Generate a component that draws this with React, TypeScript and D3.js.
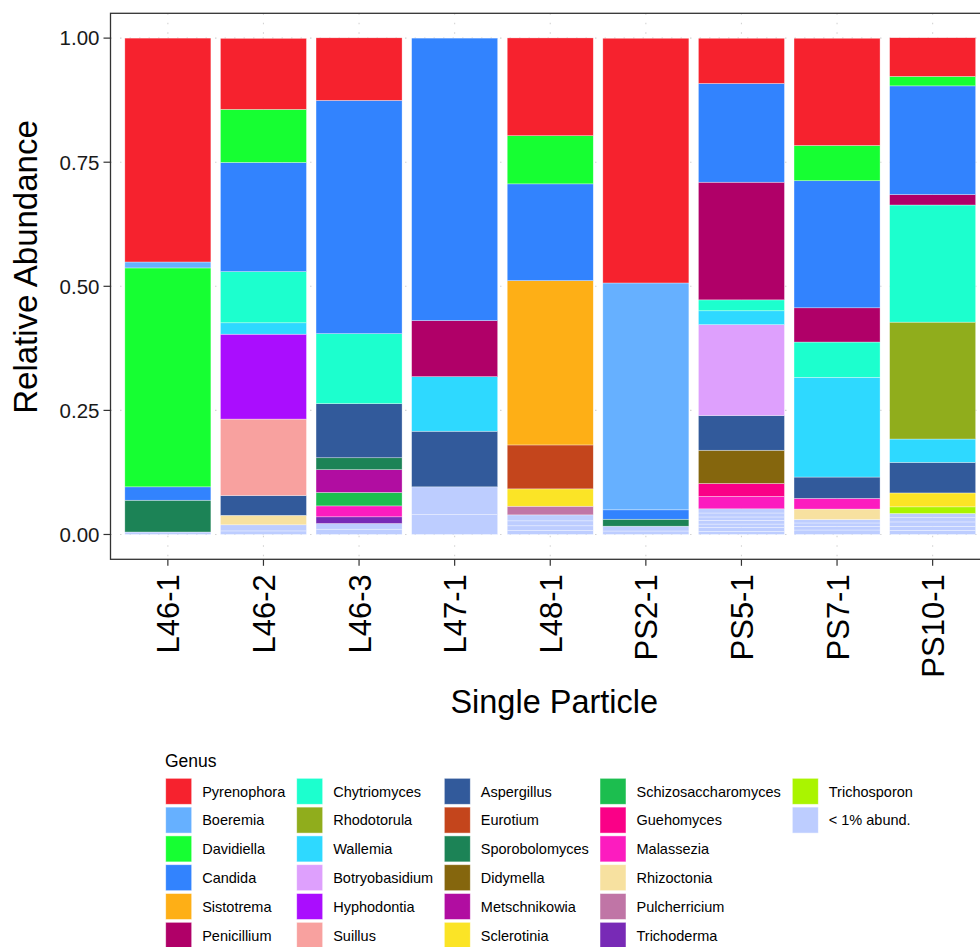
import React from "react";
import * as d3 from "d3";

// Samples along the x axis
const samples = ["L46-1", "L46-2", "L46-3", "L47-1", "L48-1", "PS2-1", "PS5-1", "PS7-1", "PS10-1"];

// Genus names (legend order, top of each stack first) and their colours
const genera = [
  "Pyrenophora", "Boeremia", "Davidiella", "Candida", "Sistotrema", "Penicillium",
  "Chytriomyces", "Rhodotorula", "Wallemia", "Botryobasidium", "Hyphodontia", "Suillus",
  "Aspergillus", "Eurotium", "Sporobolomyces", "Didymella", "Metschnikowia", "Sclerotinia",
  "Schizosaccharomyces", "Guehomyces", "Malassezia", "Rhizoctonia", "Pulcherricium",
  "Trichoderma", "Trichosporon",
];
const generaColors = [
  "#F6222E", "#66B0FF", "#16FF32", "#3283FE", "#FEAF16", "#B00068",
  "#1CFFCE", "#90AD1C", "#2ED9FF", "#DEA0FD", "#AA0DFE", "#F8A19F",
  "#325A9B", "#C4451C", "#1C8356", "#85660D", "#B10DA1", "#FBE426",
  "#1CBE4F", "#FA0087", "#FC1CBF", "#F7E1A0", "#C075A6",
  "#782AB6", "#AAF400",
];
const lowLabel = "< 1% abund.";
const lowColor = "#BDCDFF";

// Relative abundance of each genus per sample (same order as `samples`)
const pyrenophora = [0.451, 0.143, 0.126, 0, 0.197, 0.493, 0.091, 0.216, 0.078];
const boeremia = [0.012, 0, 0, 0, 0, 0.457, 0, 0, 0];
const davidiella = [0.441, 0.107, 0, 0, 0.097, 0, 0, 0.071, 0.019];
const candida = [0.027, 0.22, 0.47, 0.569, 0.195, 0.019, 0.199, 0.256, 0.219];
const sistotrema = [0, 0, 0, 0, 0.331, 0, 0, 0, 0];
const penicillium = [0, 0, 0, 0.113, 0, 0, 0.237, 0.069, 0.021];
const chytriomyces = [0, 0.103, 0.141, 0, 0, 0, 0.022, 0.071, 0.236];
const rhodotorula = [0, 0, 0, 0, 0, 0, 0, 0, 0.2355];
const wallemia = [0, 0.023, 0, 0.11, 0, 0, 0.028, 0.201, 0.047];
const botryobasidium = [0, 0, 0, 0, 0, 0, 0.183, 0, 0];
const hyphodontia = [0, 0.171, 0, 0, 0, 0, 0, 0, 0];
const suillus = [0, 0.154, 0, 0, 0, 0, 0, 0, 0];
const aspergillus = [0, 0.04, 0.109, 0.112, 0, 0, 0.07, 0.043, 0.0616];
const eurotium = [0, 0, 0, 0, 0.0885, 0, 0, 0, 0];
const sporobolomyces = [0.064, 0, 0.024, 0, 0, 0.014, 0, 0, 0];
const didymella = [0, 0, 0, 0, 0, 0, 0.067, 0, 0];
const metschnikowia = [0, 0, 0.046, 0, 0, 0, 0, 0, 0];
const sclerotinia = [0, 0, 0, 0, 0.035, 0, 0, 0, 0.028];
const schizosaccharomyces = [0, 0, 0.027, 0, 0, 0, 0, 0, 0];
const guehomyces = [0, 0, 0, 0, 0, 0, 0.026, 0, 0];
const malassezia = [0, 0, 0.022, 0, 0, 0, 0.025, 0.0215, 0];
const rhizoctonia = [0, 0.019, 0, 0, 0, 0, 0, 0.021, 0];
const pulcherricium = [0, 0, 0, 0, 0.0174, 0, 0, 0, 0];
const trichoderma = [0, 0, 0.0135, 0, 0, 0, 0, 0, 0];
const trichosporon = [0, 0, 0, 0, 0, 0, 0, 0, 0.0134];

// Rare taxa (< 1% each), one stripe per taxon group, per sample
const lowAbundance = [
  [0.005],
  [0.0072, 0.0123],
  [0.0107, 0.0114],
  [0.04, 0.056],
  [0.008, 0.0095, 0.01, 0.012],
  [0.007, 0.0097],
  [0.006, 0.008, 0.007, 0.0075, 0.0068, 0.008, 0.0084],
  [0.009, 0.0072, 0.007, 0.007],
  [0.0085, 0.008, 0.0088, 0.0085, 0.0085],
];

const yTicks = [0, 0.25, 0.5, 0.75, 1];

const generaValues = [
  pyrenophora, boeremia, davidiella, candida, sistotrema, penicillium,
  chytriomyces, rhodotorula, wallemia, botryobasidium, hyphodontia, suillus,
  aspergillus, eurotium, sporobolomyces, didymella, metschnikowia, sclerotinia,
  schizosaccharomyces, guehomyces, malassezia, rhizoctonia, pulcherricium,
  trichoderma, trichosporon,
];

const FONT = "'Liberation Sans', Arial, Helvetica, sans-serif";
const W = 980;
const H = 947;
const panel = { left: 110.5, right: 990, top: 13.3, bottom: 559.3 };

export default function App() {
  const maxLow = d3.max(lowAbundance, (d) => d.length) as number;
  const lowKeys = d3.range(maxLow).map((i) => `low${i}`);
  const keys = [...lowKeys, ...genera.slice().reverse()];

  const rows = samples.map((s, i) => {
    const row: Record<string, number | string> = { sample: s };
    lowKeys.forEach((k, j) => (row[k] = lowAbundance[i][j] ?? 0));
    genera.forEach((g, gi) => (row[g] = generaValues[gi][i]));
    return row;
  });

  const series = d3.stack<any>().keys(keys)(rows as any);

  const color = d3
    .scaleOrdinal<string, string>()
    .domain([...genera, ...lowKeys])
    .range([...generaColors, ...lowKeys.map(() => lowColor)]);

  const x = d3
    .scaleBand<string>()
    .domain(samples)
    .range([panel.left, panel.right])
    .paddingInner(0.1)
    .paddingOuter(0.15);
  const y = d3.scaleLinear().domain([-0.05, 1.05]).range([panel.bottom, panel.top]);

  const legendItems = [
    ...genera.map((g, i) => ({ label: g, color: generaColors[i] })),
    { label: lowLabel, color: lowColor },
  ];
  const legendColX = [165.7, 296.7, 444.3, 600, 792.3];
  const rowsPerCol = 6;
  const legendTop = 778.3;
  const legendStep = 28.8;
  const keySize = 26;

  return (
    <svg
      width={W}
      height={H}
      viewBox={`0 0 ${W} ${H}`}
      style={{ position: "absolute", left: 0, top: 0, display: "block", background: "#fff" }}
      fontFamily={FONT}
    >
      <rect x={0} y={0} width={W} height={H} fill="#fff" />
      {/* grid */}
      <g stroke="#d4d4d4" strokeWidth={1.1} strokeDasharray="1.5 8">
        {yTicks.map((t) => (
          <line key={`gy${t}`} x1={panel.left} x2={panel.right} y1={y(t)} y2={y(t)} />
        ))}
        {samples.map((s) => (
          <line
            key={`gx${s}`}
            x1={(x(s) as number) + x.bandwidth() / 2}
            x2={(x(s) as number) + x.bandwidth() / 2}
            y1={panel.top}
            y2={panel.bottom}
          />
        ))}
      </g>
      {/* stacked bars */}
      <g>
        {series.map((ser) => (
          <g key={ser.key} fill={color(ser.key)}>
            {ser.map((d, i) => {
              const h = y(d[0]) - y(d[1]);
              if (h <= 0) return null;
              return (
                <rect
                  key={i}
                  x={x(samples[i])}
                  y={y(d[1])}
                  width={x.bandwidth()}
                  height={h}
                  stroke="#ffffff"
                  strokeOpacity={0.55}
                  strokeWidth={0.6}
                />
              );
            })}
          </g>
        ))}
      </g>
      {/* panel border */}
      <rect
        x={panel.left}
        y={panel.top}
        width={panel.right - panel.left}
        height={panel.bottom - panel.top}
        fill="none"
        stroke="#333333"
        strokeWidth={1.3}
      />
      {/* y axis */}
      <g>
        {yTicks.map((t) => (
          <g key={`yt${t}`}>
            <line x1={panel.left - 7} x2={panel.left} y1={y(t)} y2={y(t)} stroke="#333" strokeWidth={1.2} />
            <text x={panel.left - 11} y={y(t)} dy="0.36em" textAnchor="end" fontSize={20.5} fill="#1a1a1a">
              {d3.format(".2f")(t)}
            </text>
          </g>
        ))}
        <text
          transform={`translate(37,267) rotate(-90)`}
          textAnchor="middle"
          fontSize={33}
          fill="#000"
        >
          Relative Abundance
        </text>
      </g>
      {/* x axis */}
      <g>
        {samples.map((s) => {
          const cx = (x(s) as number) + x.bandwidth() / 2;
          return (
            <g key={`xt${s}`}>
              <line x1={cx} x2={cx} y1={panel.bottom} y2={panel.bottom + 6.5} stroke="#333" strokeWidth={1.2} />
              <text
                transform={`translate(${cx + 11.5},${panel.bottom + 15}) rotate(-90)`}
                textAnchor="end"
                fontSize={31}
                fill="#000"
              >
                {s}
              </text>
            </g>
          );
        })}
        <text x={(panel.left + panel.right) / 2 + 4} y={713} textAnchor="middle" fontSize={32.5} fill="#000">
          Single Particle
        </text>
      </g>
      {/* legend */}
      <g>
        <text x={165} y={767} fontSize={17.5} fill="#000">
          Genus
        </text>
        {legendItems.map((it, i) => {
          const col = Math.floor(i / rowsPerCol);
          const row = i % rowsPerCol;
          const kx = legendColX[col];
          const ky = legendTop + row * legendStep;
          return (
            <g key={it.label}>
              <rect
                x={kx}
                y={ky}
                width={keySize}
                height={keySize}
                fill={it.color}
                stroke="#ffffff"
                strokeOpacity={0.6}
                strokeWidth={0.8}
              />
              <text x={kx + 36.5} y={ky + keySize / 2} dy="0.36em" fontSize={14.5} fill="#000">
                {it.label}
              </text>
            </g>
          );
        })}
      </g>
    </svg>
  );
}
